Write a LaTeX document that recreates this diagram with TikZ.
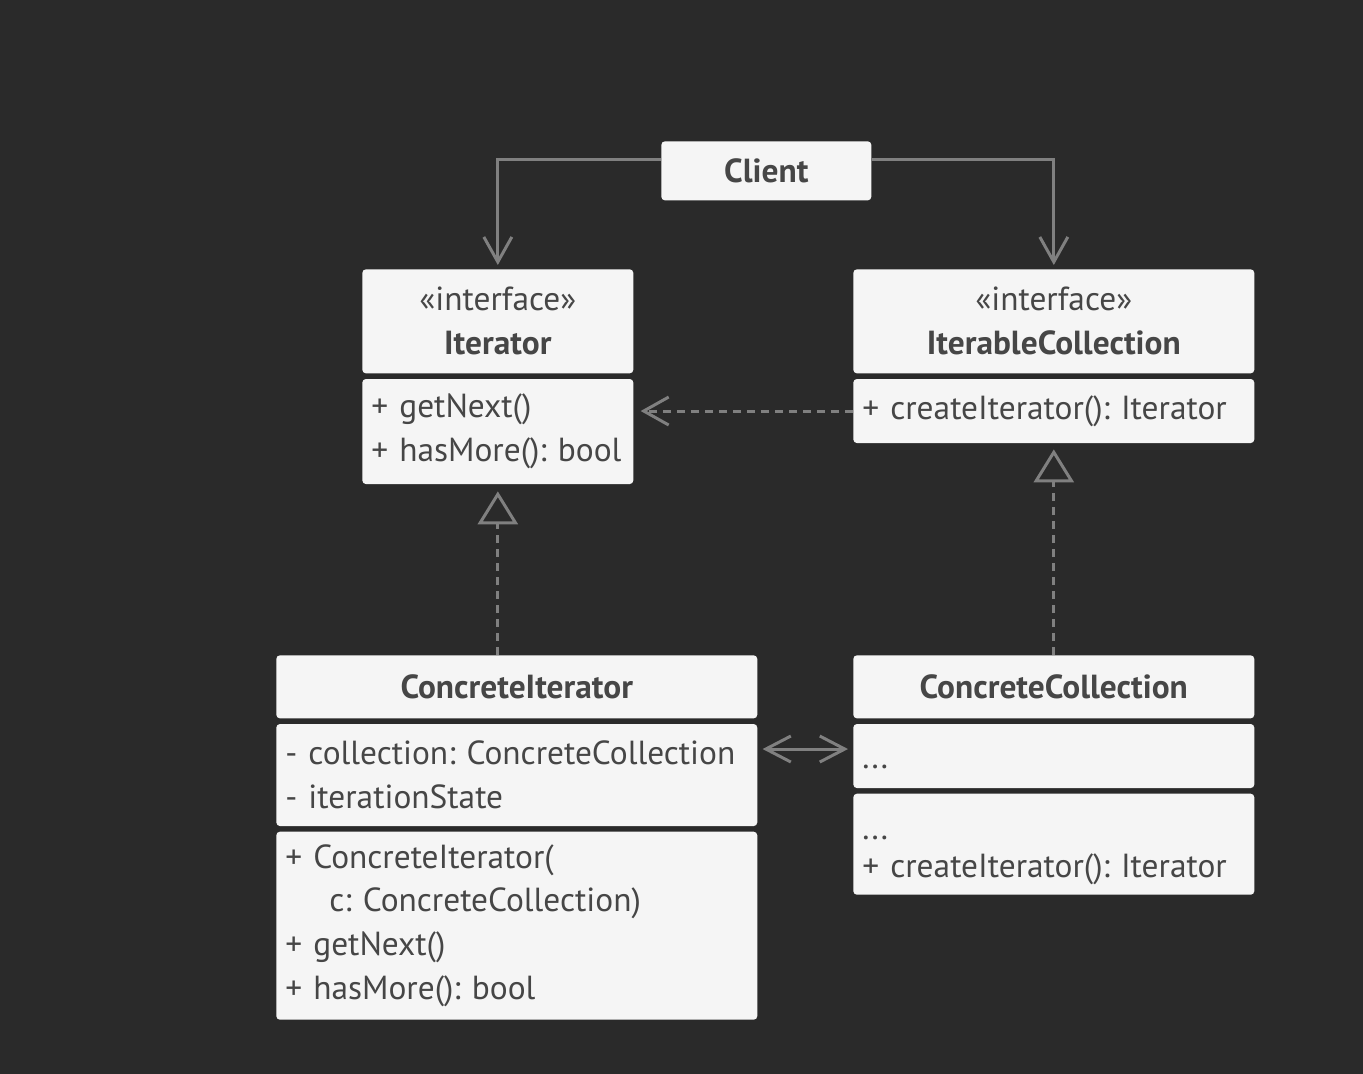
\documentclass[tikz,border=0pt]{standalone}
\usepackage{fontspec}
\setmainfont{PT Sans}
\usetikzlibrary{arrows.meta,positioning}
\definecolor{bgdark}{RGB}{42,42,42}
\definecolor{boxfill}{RGB}{245,245,245}
\definecolor{linegray}{RGB}{128,128,128}
\definecolor{txtgray}{RGB}{70,70,70}
\frenchspacing

\begin{document}
\begin{tikzpicture}[x=0.02cm, y=-0.02cm, node distance=0.1cm,
    box/.style={fill=boxfill, rounded corners=2pt, inner sep=0pt, text=txtgray,
      font=\fontsize{19}{25}\selectfont},
    head/.style={box, align=center},
    part/.style={box, align=left, inner xsep=0.18cm},
    arr/.style={draw=linegray, line width=1.7pt, -{Straight Barb[length=5mm,width=5.6mm]}},
    dep/.style={arr, dash pattern=on 0.16cm off 0.12cm},
    impl/.style={draw=linegray, line width=1.7pt, dash pattern=on 0.16cm off 0.12cm,
      -{Triangle[open,length=6.6mm,width=8mm]}},
    both/.style={draw=linegray, line width=1.7pt,
      {Straight Barb[length=5mm,width=5.2mm]}-{Straight Barb[length=5mm,width=5.2mm]}}]
  \useasboundingbox (0,0) rectangle (1363,1074);
  \fill[bgdark] (0,0) rectangle (1363,1074);

  % Client
  \node[head, minimum width=4.2cm, minimum height=1.18cm, anchor=north west] (client) at (661,141) {\textbf{Client}};

  % Interfaces
  \node[head, minimum width=5.42cm, minimum height=2.08cm, anchor=north west] (iterHead) at (362,269) {«interface»\\\textbf{Iterator}};
  \node[part, text width=5.06cm, minimum height=2.1cm, below=of iterHead] (iterBody) {+ getNext()\\+ hasMore(): bool};

  \node[head, minimum width=8.02cm, minimum height=2.08cm, anchor=north west] (collHead) at (853,269) {«interface»\\\textbf{IterableCollection}};
  \node[part, text width=7.66cm, minimum height=1.28cm, below=of collHead] (collBody) {+ createIterator(): Iterator};

  % Concrete classes
  \node[head, minimum width=9.62cm, minimum height=1.26cm, anchor=north west] (cIterHead) at (276,655) {\textbf{ConcreteIterator}};
  \node[part, text width=9.26cm, minimum height=2.04cm, below=of cIterHead] (cIterAttr) {- collection: ConcreteCollection\\- iterationState};
  \node[part, text width=9.26cm, minimum height=3.76cm, below=of cIterAttr] (cIterOps) {+ ConcreteIterator(\\\hspace*{0.88cm}c: ConcreteCollection)\\+ getNext()\\+ hasMore(): bool};

  \node[head, minimum width=8.02cm, minimum height=1.26cm, anchor=north west] (cCollHead) at (853,655) {\textbf{ConcreteCollection}};
  \node[part, text width=7.66cm, minimum height=1.28cm, below=of cCollHead] (cCollAttr) {\rule{0pt}{0.5cm}...};
  \node[part, text width=7.66cm, minimum height=2.02cm, below=of cCollAttr] (cCollOps) {\rule{0pt}{0.7cm}...\\[-0.12cm]+ createIterator(): Iterator};

  % Connectors
  \draw[arr, shorten >=0.08cm] ([yshift=0.22cm]client.west) -| (iterHead.north);
  \draw[arr, shorten >=0.08cm] ([yshift=0.22cm]client.east) -| (collHead.north);
  \draw[dep, shorten >=0.14cm] (collBody.west) -- (collBody.west -| iterBody.east);
  \draw[impl, shorten >=0.14cm] (iterBody.south |- cIterHead.north) -- (iterBody.south);
  \draw[impl, shorten >=0.12cm] (cCollHead.north) -- (collBody.south);
  \coordinate (assoc) at ([yshift=0.14cm]cCollAttr.west);
  \draw[both, shorten <=0.1cm, shorten >=0.1cm] (assoc -| cIterAttr.east) -- (assoc);
\end{tikzpicture}
\end{document}
